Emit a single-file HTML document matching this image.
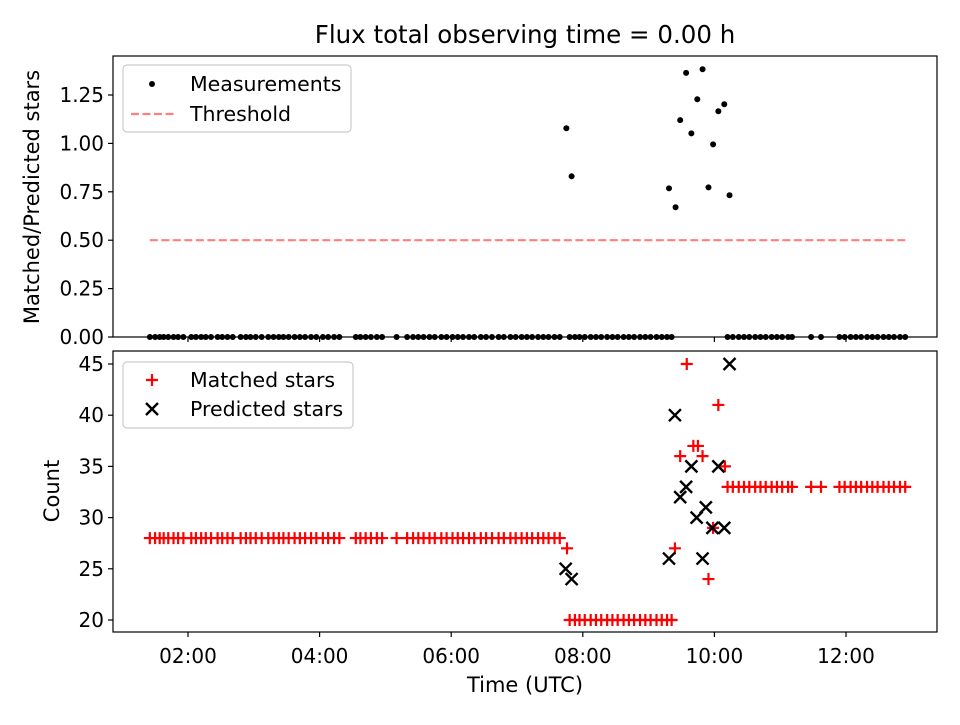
<!DOCTYPE html>
<html><head><meta charset="utf-8"><style>
body{margin:0;background:#fff;font-family:"Liberation Sans","DejaVu Sans",sans-serif;}
svg text{font-family:"DejaVu Sans","Liberation Sans",sans-serif;}
</style></head><body>
<svg id="c" width="960" height="720" xmlns="http://www.w3.org/2000/svg"></svg>
<script>
// ---- data (hours UTC) ----
const flatTimesA = [1.42,1.50,1.57,1.63,1.70,1.78,1.85,1.93,2.05,2.12,2.20,2.27,2.35,2.45,2.52,2.60,2.68,2.80,2.88,2.95,3.03,3.12,3.22,3.30,3.38,3.45,3.53,3.62,3.70,3.78,3.87,3.95,4.05,4.13,4.22,4.30,4.55,4.62,4.70,4.78,4.87,4.95,5.17,5.33,5.42,5.50,5.58,5.67,5.75,5.85,5.93,6.02,6.10,6.18,6.27,6.35,6.45,6.53,6.62,6.72,6.80,6.90,6.98,7.07,7.15,7.23,7.32,7.40,7.48,7.57,7.65];
const flatCountA = 28;
const flatTimesB = [7.80,7.88,7.95,8.03,8.12,8.20,8.28,8.37,8.45,8.53,8.62,8.70,8.78,8.87,8.95,9.03,9.12,9.20,9.28,9.35];
const flatCountB = 20;
const flatTimesC = [10.20,10.28,10.37,10.45,10.53,10.62,10.70,10.78,10.87,10.95,11.03,11.12,11.18,11.47,11.62,11.90,11.98,12.07,12.15,12.23,12.32,12.40,12.48,12.57,12.65,12.73,12.82,12.90];
const flatCountC = 33;
const matchedTimes = [7.76,9.40,9.48,9.58,9.68,9.75,9.82,9.91,9.98,10.06,10.16];
const matchedCounts = [27,27,36,45,37,37,36,24,29,41,35];
const predictedTimes = [7.74,7.83,9.31,9.40,9.48,9.57,9.65,9.73,9.82,9.87,9.97,10.06,10.15,10.23];
const predictedCounts = [25,24,26,40,32,33,35,30,26,31,29,35,29,45];
const ratioTimes = [7.75,7.83,9.31,9.41,9.48,9.57,9.65,9.74,9.82,9.91,9.98,10.06,10.15,10.23];
const ratioValues = [1.078,0.83,0.768,0.67,1.12,1.364,1.052,1.228,1.383,0.773,0.995,1.166,1.202,0.732];
const threshold = 0.5;
const thresholdRange = [1.42,12.9];
const xTicks = [2,4,6,8,10,12];
const xTickLabels = ["02:00","04:00","06:00","08:00","10:00","12:00"];
const topTicks = [0,0.25,0.5,0.75,1.0,1.25];
const topTickLabels = ["0.00","0.25","0.50","0.75","1.00","1.25"];
const botTicks = [20,25,30,35,40,45];

const NS="http://www.w3.org/2000/svg", svg=document.getElementById('c');
function mk(tag,attrs,parent){const e=document.createElementNS(NS,tag);for(const k in attrs)e.setAttribute(k,attrs[k]);(parent||svg).appendChild(e);return e;}
const X0=113,X1=937;
const xs=h=>188+(h-2)*65.8;
const T={top:56,bot:337}, B={top:351,bot:632};
const ys1=v=>337-v*193.6;
const ys2=v=>620-(v-20)*10.24;
const TF=20, LF=21;

[T,B].forEach((a,i)=>{const r=mk('rect',{x:X0,y:a.top,width:X1-X0,height:a.bot-a.top,fill:'none',stroke:'#000','stroke-width':1.2});
});

let t=mk('text',{x:525,y:43,'font-size':24.5,'text-anchor':'middle'});t.textContent='Flux total observing time = 0.00 h';


xTicks.forEach((h,i)=>{const x=xs(h);
 mk('line',{x1:x,x2:x,y1:T.bot,y2:T.bot+5,stroke:'#000','stroke-width':1.2});
 mk('line',{x1:x,x2:x,y1:B.bot,y2:B.bot+5,stroke:'#000','stroke-width':1.2});
 const l=mk('text',{x:x,y:663,'font-size':TF,'text-anchor':'middle'});l.textContent=xTickLabels[i];
 });
t=mk('text',{x:525,y:692,'font-size':LF,'text-anchor':'middle'});t.textContent='Time (UTC)';


topTicks.forEach((v,i)=>{const y=ys1(v);mk('line',{x1:X0-5,x2:X0,y1:y,y2:y,stroke:'#000','stroke-width':1.2});
 const l=mk('text',{x:X0-9,y:y+7,'font-size':TF,'text-anchor':'end'});l.textContent=topTickLabels[i];
 });
botTicks.forEach(v=>{const y=ys2(v);mk('line',{x1:X0-5,x2:X0,y1:y,y2:y,stroke:'#000','stroke-width':1.2});
 const l=mk('text',{x:X0-9,y:y+7,'font-size':TF,'text-anchor':'end'});l.textContent=String(v);
 });
t=mk('text',{x:0,y:0,'font-size':LF,'text-anchor':'middle',transform:'translate(39,197) rotate(-90)'});t.textContent='Matched/Predicted stars';

t=mk('text',{x:0,y:0,'font-size':LF,'text-anchor':'middle',transform:'translate(59,491) rotate(-90)'});t.textContent='Count';


let th=mk('line',{x1:xs(thresholdRange[0]),x2:xs(thresholdRange[1]),y1:ys1(threshold),y2:ys1(threshold),stroke:'#ff7f7f','stroke-width':2.2,'stroke-dasharray':'8,3.5'});


const allFlat=flatTimesA.concat(flatTimesB,flatTimesC);
function dot(x,y){const c=mk('circle',{cx:x,cy:y,r:3,fill:'#000'});
 }
allFlat.forEach(h=>dot(xs(h),ys1(0)));
ratioTimes.forEach((h,i)=>dot(xs(h),ys1(ratioValues[i])));

function plus(x,y){const g=mk('path',{d:`M${x-6},${y}H${x+6}M${x},${y-6}V${y+6}`,stroke:'#f00','stroke-width':2.2,fill:'none'});
 }
function cross(x,y){const g=mk('path',{d:`M${x-6},${y-6}L${x+6},${y+6}M${x-6},${y+6}L${x+6},${y-6}`,stroke:'#000','stroke-width':2.4,fill:'none'});
 }
flatTimesA.forEach(h=>plus(xs(h),ys2(flatCountA)));
flatTimesB.forEach(h=>plus(xs(h),ys2(flatCountB)));
flatTimesC.forEach(h=>plus(xs(h),ys2(flatCountC)));
matchedTimes.forEach((h,i)=>plus(xs(h),ys2(matchedCounts[i])));
predictedTimes.forEach((h,i)=>cross(xs(h),ys2(predictedCounts[i])));

let lg=mk('rect',{x:123,y:65,width:228,height:67,rx:4,fill:'#fff',stroke:'#ccc','stroke-width':1.2});

mk('circle',{cx:152,cy:84,r:3,fill:'#000'});
t=mk('text',{x:190,y:91,'font-size':LF-0.5});t.textContent='Measurements';

mk('line',{x1:131,x2:175,y1:114,y2:114,stroke:'#ff7f7f','stroke-width':2.2,'stroke-dasharray':'8,3.5'});
t=mk('text',{x:190,y:121,'font-size':LF-0.5});t.textContent='Threshold';


lg=mk('rect',{x:123,y:362,width:230,height:66,rx:4,fill:'#fff',stroke:'#ccc','stroke-width':1.2});

mk('path',{d:'M146,380H158M152,374V386',stroke:'#f00','stroke-width':2.2});
t=mk('text',{x:190,y:387,'font-size':LF-0.5});t.textContent='Matched stars';

mk('path',{d:'M146,403L158,415M146,415L158,403',stroke:'#000','stroke-width':2.4});
t=mk('text',{x:190,y:416,'font-size':LF-0.5});t.textContent='Predicted stars';

</script>
</body></html>
